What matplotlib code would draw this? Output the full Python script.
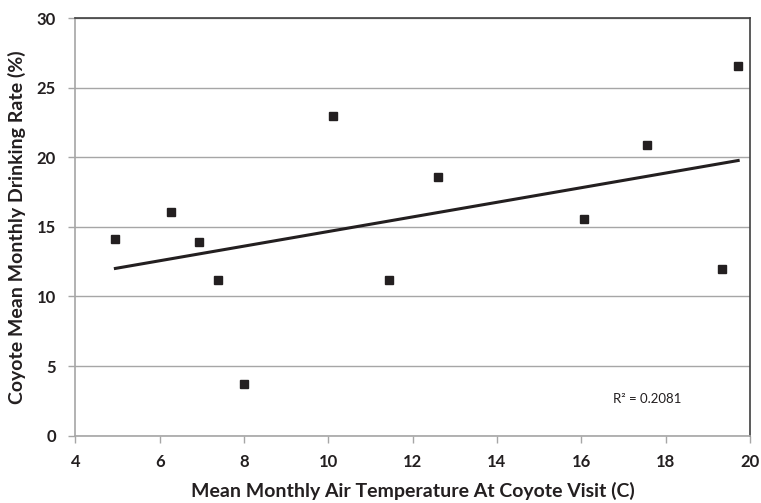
import numpy as np
import matplotlib
matplotlib.use('Agg')
import matplotlib.pyplot as plt
from matplotlib.font_manager import FontProperties

plt.rcParams['font.family'] = ['Lato', 'DejaVu Sans']

# data
temp = [4.95, 6.28, 6.94, 7.39, 8.01, 10.12, 11.45, 12.61, 16.07, 17.56, 19.34, 19.72]
drink = [14.1, 16.05, 13.9, 11.15, 3.7, 23.0, 11.15, 18.6, 15.6, 20.9, 12.0, 26.55]
xticks = [4, 6, 8, 10, 12, 14, 16, 18, 20]
yticks = [0, 5, 10, 15, 20, 25, 30]
r2_text = 'R² = 0.2081'

fig = plt.figure(figsize=(7.61, 5.03), dpi=100)
ax = fig.add_axes([0.099, 0.134, 0.8865, 0.830])

# linear trend line
coef = np.polyfit(temp, drink, 1)
xt = np.array([min(temp), max(temp)])
ax.plot(xt, np.polyval(coef, xt), color='#231f20', lw=2.2, zorder=3)

ax.plot(temp, drink, 's', color='#231f20', ms=6, zorder=4, ls='none')

ax.set_xlim(4, 20)
ax.set_ylim(0, 30)
ax.yaxis.grid(True, color='#a6a6a6', lw=1)
ax.set_axisbelow(True)

for s in ['left', 'bottom']:
    ax.spines[s].set_color('#a6a6a6')
    ax.spines[s].set_linewidth(1.2)
for s in ['top', 'right']:
    ax.spines[s].set_color('#404040')
    ax.spines[s].set_linewidth(1.2)

ax.tick_params(axis='both', direction='out', length=5, color='#a6a6a6', width=1,
               labelcolor='#231f20')
ax.tick_params(axis='x', pad=8)
ax.tick_params(axis='y', pad=9)

tick_font = FontProperties(family='Lato', weight='bold', size=12)
ax.set_xticks(xticks)
ax.set_xticklabels([str(t) for t in xticks], fontproperties=tick_font)
ax.set_yticks(yticks)
ax.set_yticklabels([str(t) for t in yticks], fontproperties=tick_font)

ax.set_xlabel('Mean Monthly Air Temperature At Coyote Visit (C)', fontsize=14,
              fontweight='bold', labelpad=9, color='#231f20')
ax.set_ylabel('Coyote Mean Monthly Drinking Rate (%)', fontsize=14,
              fontweight='bold', labelpad=8, color='#231f20')

ax.text(16.75, 2.64, r2_text, fontsize=9.5, va='center', ha='left', color='#231f20')

fig.savefig('out.png', dpi=100)
